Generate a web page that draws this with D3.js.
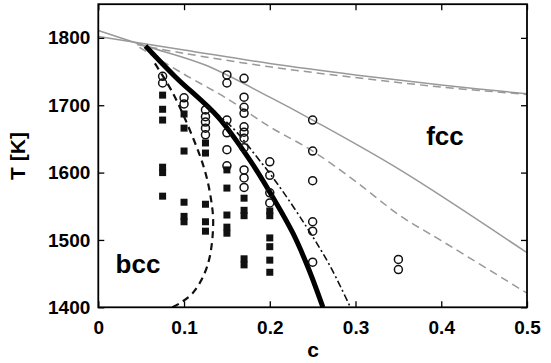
<!DOCTYPE html>
<html>
<head>
<meta charset="utf-8">
<script src="https://cdn.jsdelivr.net/npm/d3@7"></script>
<style>
  body { margin: 0; background: #fff; }
  text { font-family: "Liberation Sans", Arial, sans-serif; font-weight: bold; }
</style>
</head>
<body>
<script>
// phase boundary lines, [c, T]
const grayTop = [[0, 1802], [0.1, 1782], [0.2, 1762], [0.3, 1745], [0.4, 1730], [0.5, 1717]];
const grayTopDashed = [[0.045, 1790], [0.1, 1777], [0.2, 1757], [0.3, 1741], [0.4, 1727], [0.5, 1716]];
const graySteep = [[0, 1811], [0.055, 1788], [0.124, 1760], [0.2, 1712], [0.25, 1678], [0.352, 1604], [0.5, 1481]];
const graySteepDashed = [[0.048, 1786], [0.1, 1746], [0.15, 1710], [0.2, 1668], [0.25, 1632], [0.3, 1587], [0.352, 1536], [0.4, 1499], [0.5, 1421]];
const thickLine = [[0.055, 1788], [0.09, 1742], [0.14, 1682], [0.177, 1618], [0.2, 1571], [0.227, 1510], [0.245, 1458], [0.262, 1400]];
const dashDotLine = [[0.06, 1782], [0.1, 1728], [0.157, 1666], [0.185, 1623], [0.208, 1585], [0.243, 1519], [0.27, 1462], [0.294, 1400]];
const bccLine = [[0.066, 1762], [0.087, 1718], [0.11, 1653], [0.124, 1604], [0.131, 1564], [0.134, 1527], [0.13, 1475], [0.122, 1445], [0.11, 1421], [0.095, 1406], [0.083, 1398]];

// simulation points: fcc (open circles) and bcc (filled squares)
const fccPoints = [
  [0.075, 1743], [0.075, 1733],
  [0.1, 1711], [0.1, 1702],
  [0.125, 1693], [0.125, 1683], [0.125, 1675], [0.125, 1666], [0.125, 1656],
  [0.15, 1745], [0.15, 1733], [0.15, 1678], [0.15, 1659], [0.15, 1634], [0.15, 1610],
  [0.17, 1740], [0.17, 1712], [0.17, 1697], [0.17, 1688], [0.17, 1668], [0.17, 1660],
  [0.17, 1651], [0.17, 1637], [0.17, 1604], [0.17, 1592], [0.17, 1578],
  [0.2, 1616], [0.2, 1596], [0.2, 1570], [0.2, 1555],
  [0.25, 1678], [0.25, 1632], [0.25, 1588], [0.25, 1527], [0.25, 1513], [0.25, 1467],
  [0.35, 1471], [0.35, 1456]
];
const bccPoints = [
  [0.075, 1715], [0.075, 1694], [0.075, 1678], [0.075, 1608], [0.075, 1600], [0.075, 1565],
  [0.1, 1687], [0.1, 1666], [0.1, 1632], [0.1, 1556], [0.1, 1535], [0.1, 1527],
  [0.125, 1644], [0.125, 1629], [0.125, 1553], [0.125, 1527], [0.125, 1513],
  [0.15, 1604], [0.15, 1577], [0.15, 1537], [0.15, 1519], [0.15, 1510],
  [0.17, 1562], [0.17, 1544], [0.17, 1536], [0.17, 1472], [0.17, 1463],
  [0.2, 1543], [0.2, 1536], [0.2, 1503], [0.2, 1490], [0.2, 1470], [0.2, 1452]
];

const xTicks = [0, 0.1, 0.2, 0.3, 0.4, 0.5];
const yTicks = [1400, 1500, 1600, 1700, 1800];

const width = 551;
const height = 363;
const plotLeft = 98.3, plotRight = 527, plotTop = 4.2, plotBottom = 307.3;

const svg = d3.select('body').append('svg')
  .attr('width', width)
  .attr('height', height);

const x = d3.scaleLinear().domain([0, 0.5]).range([plotLeft, plotRight]);
const y = d3.scaleLinear().domain([1400, 1850]).range([plotBottom, plotTop]);

svg.append('clipPath').attr('id', 'plot')
  .append('rect')
  .attr('x', plotLeft).attr('y', plotTop)
  .attr('width', plotRight - plotLeft).attr('height', plotBottom - plotTop);

const plot = svg.append('g').attr('clip-path', 'url(#plot)');

const line = d3.line()
  .x(d => x(d[0]))
  .y(d => y(d[1]))
  .curve(d3.curveCatmullRom.alpha(0.5));

function drawLine(data, color, w, dash) {
  plot.append('path')
    .datum(data)
    .attr('d', line)
    .attr('fill', 'none')
    .attr('stroke', color)
    .attr('stroke-width', w)
    .attr('stroke-dasharray', dash);
}

const gray = '#999';
drawLine(grayTop, gray, 1.5, null);
drawLine(grayTopDashed, gray, 1.5, '8,5');
drawLine(graySteep, gray, 1.5, null);
drawLine(graySteepDashed, gray, 1.5, '8,5');
drawLine(bccLine, '#111', 2.2, '7,5');
drawLine(dashDotLine, '#111', 1.6, '7,3,2,3');
drawLine(thickLine, '#000', 5, null);

// markers
plot.selectAll('.sq')
  .data(bccPoints)
  .enter().append('rect')
  .attr('class', 'sq')
  .attr('x', d => x(d[0]) - 3.5)
  .attr('y', d => y(d[1]) - 3.5)
  .attr('width', 7)
  .attr('height', 7)
  .attr('fill', '#111');

plot.selectAll('.circ')
  .data(fccPoints)
  .enter().append('circle')
  .attr('class', 'circ')
  .attr('cx', d => x(d[0]))
  .attr('cy', d => y(d[1]))
  .attr('r', 4)
  .attr('fill', 'none')
  .attr('stroke', '#111')
  .attr('stroke-width', 1.5);

// axes with inward ticks (matlab style)
const tick = 6;
const xAxis = svg.append('g')
  .attr('transform', 'translate(0,' + plotBottom + ')')
  .call(d3.axisBottom(x).tickValues(xTicks).tickSizeInner(-tick).tickSizeOuter(0)
    .tickPadding(tick + 7).tickFormat(d => d === 0 ? '0' : d3.format('.1f')(d)));
xAxis.selectAll('text').attr('font-size', 19).attr('fill', '#000');

svg.append('g')
  .attr('transform', 'translate(0,' + plotTop + ')')
  .call(d3.axisTop(x).tickValues(xTicks).tickSizeInner(-tick).tickSizeOuter(0).tickFormat(''));

const yAxis = svg.append('g')
  .attr('transform', 'translate(' + plotLeft + ',0)')
  .call(d3.axisLeft(y).tickValues(yTicks).tickSizeInner(-tick).tickSizeOuter(0)
    .tickPadding(tick + 2).tickFormat(d3.format('d')));
yAxis.selectAll('text').attr('font-size', 19).attr('fill', '#000');

svg.append('g')
  .attr('transform', 'translate(' + plotRight + ',0)')
  .call(d3.axisRight(y).tickValues(yTicks).tickSizeInner(-tick).tickSizeOuter(0).tickFormat(''));

svg.selectAll('.domain').remove();
svg.selectAll('.tick line').attr('stroke', '#000').attr('stroke-width', 1.3);

svg.append('rect')
  .attr('x', plotLeft).attr('y', plotTop)
  .attr('width', plotRight - plotLeft).attr('height', plotBottom - plotTop)
  .attr('fill', 'none')
  .attr('stroke', '#000')
  .attr('stroke-width', 1.8);

// labels
svg.append('text')
  .attr('x', 313)
  .attr('y', 357)
  .attr('text-anchor', 'middle')
  .attr('font-size', 21)
  .text('c');

svg.append('text')
  .attr('transform', 'translate(25,156) rotate(-90)')
  .attr('text-anchor', 'middle')
  .attr('font-size', 21)
  .text('T [K]');

svg.append('text')
  .attr('x', 445)
  .attr('y', 145)
  .attr('text-anchor', 'middle')
  .attr('font-size', 26)
  .text('fcc');

svg.append('text')
  .attr('x', 138)
  .attr('y', 273)
  .attr('text-anchor', 'middle')
  .attr('font-size', 26)
  .text('bcc');
</script>
</body>
</html>
